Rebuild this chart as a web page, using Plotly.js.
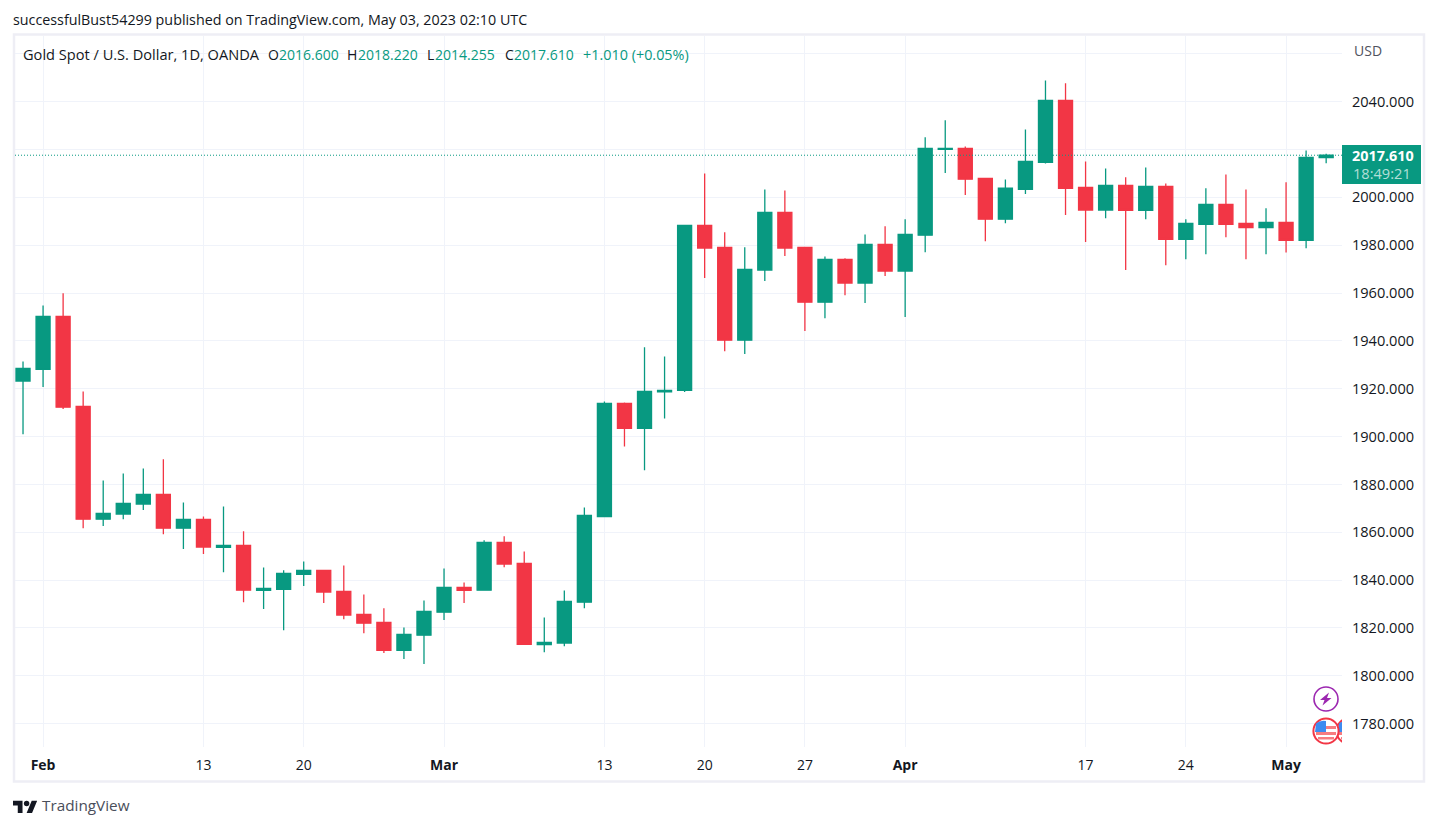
<!DOCTYPE html>
<html>
<head>
<meta charset="utf-8">
<script src="https://cdn.plot.ly/plotly-3.0.1.min.js"></script>
<style>
  html, body { margin: 0; padding: 0; background: #fff; }
</style>
</head>
<body>
<div id="chart" style="width:1437px;height:826px;"></div>
<script>
// daily bars, XAU/USD
let dates = ['2023-01-31','2023-02-01','2023-02-02','2023-02-03','2023-02-06','2023-02-07','2023-02-08','2023-02-09','2023-02-10',
  '2023-02-13','2023-02-14','2023-02-15','2023-02-16','2023-02-17','2023-02-20','2023-02-21','2023-02-22','2023-02-23','2023-02-24',
  '2023-02-27','2023-02-28','2023-03-01','2023-03-02','2023-03-03','2023-03-06','2023-03-07','2023-03-08','2023-03-09','2023-03-10',
  '2023-03-13','2023-03-14','2023-03-15','2023-03-16','2023-03-17','2023-03-20','2023-03-21','2023-03-22','2023-03-23','2023-03-24',
  '2023-03-27','2023-03-28','2023-03-29','2023-03-30','2023-03-31','2023-04-03','2023-04-04','2023-04-05','2023-04-06',
  '2023-04-10','2023-04-11','2023-04-12','2023-04-13','2023-04-14','2023-04-17','2023-04-18','2023-04-19','2023-04-20','2023-04-21',
  '2023-04-24','2023-04-25','2023-04-26','2023-04-27','2023-04-28','2023-05-01','2023-05-02','2023-05-03'];
let opens = [1923.2,1928.1,1950.2,1912.6,1865.5,1867.6,1871.8,1875.8,1861.7,
  1865.4,1853.7,1854.5,1835.7,1836.2,1842.4,1844.1,1835.3,1825.7,1822.3,
  1810.7,1817,1826.6,1837,1835.8,1855.8,1847,1813.1,1813.7,1830.8,
  1866.6,1913.9,1903.4,1918.7,1919.3,1988.3,1979.1,1940.3,1969.6,1993.7,
  1979.1,1956.2,1974.1,1964.2,1980.3,1969.2,1984.2,2020.1,2020.5,
  2007.9,1990.9,2003.3,2014.6,2040.5,2004.2,1994.7,2005,1994.6,2004.6,
  1982.4,1988.7,1997.1,1989.1,1987.4,1989.5,1982,2016.6];
let highs = [1931.4,1954.8,1959.9,1918.9,1881.7,1884.6,1886.7,1890.5,1872.5,
  1866.6,1870.8,1860.4,1845.3,1844.1,1847.8,1844.1,1846.1,1834,1828.2,
  1820.2,1831.5,1844.9,1839,1856.7,1858.3,1852,1824.4,1835.7,1870.4,
  1914.7,1914.3,1937.3,1933.5,1988.3,2010,1985.4,1979.1,2003.3,2002.9,
  1979.1,1975.3,1974.5,1984.5,1987.9,1990.8,2025.1,2032.2,2021.3,
  2007.9,2007.5,2028.4,2048.9,2047.7,2015,2012.1,2008.4,2012.5,2005.8,
  1990.8,2003.8,2009.6,2003.3,1995.4,2006.3,2019.6,2018.22];
let lows = [1901,1920.7,1911.5,1861.7,1862.6,1865.5,1869.3,1859.2,1853,
  1850.9,1843.3,1830.8,1827.9,1819.1,1837.5,1830.4,1823.7,1817.8,1809.5,
  1807,1804.9,1823.3,1830.4,1835.8,1845.4,1813.2,1809.9,1812.4,1828.3,
  1866.6,1895.9,1885.9,1907.6,1918.6,1966.3,1935.7,1934.5,1965,1975.5,
  1944.1,1949.5,1959.1,1955.8,1967.1,1950,1977.1,2010.2,2001,
  1981.7,1989.2,2001.4,2014.2,1992.6,1981.3,1991.3,1969.6,1990.8,1971.6,
  1974.1,1976.2,1983.3,1974.1,1976.2,1977,1978.7,2014.255];
let closes = [1928.5,1950.2,1912.3,1865.5,1867.9,1872.1,1875.8,1861.7,1865.4,
  1853.8,1854.5,1835.8,1836.5,1842.8,1844.1,1835,1825.4,1822,1810.7,
  1817.3,1826.9,1837,1835.7,1855.8,1846.7,1813.2,1814,1831.1,1867.1,
  1913.9,1903.4,1918.9,1919.3,1988.3,1978.8,1940.3,1969.9,1993.7,1978.8,
  1956.2,1974.1,1964.2,1980.3,1969.2,1984.5,2020.5,2020.5,2007.6,
  1990.9,2003.8,2015,2040.5,2003.8,1994.7,2005,1994.6,2004.6,1982.4,
  1989.1,1997.1,1988.7,1987.4,1989.5,1982,2016.7,2017.61];

let tickDates = ['2023-02-01','2023-02-13','2023-02-20','2023-03-01','2023-03-13','2023-03-20','2023-03-27','2023-04-03','2023-04-17','2023-04-24','2023-05-01'];
let tickLabels = ['<b>Feb</b>','13','20','<b>Mar</b>','13','20','27','<b>Apr</b>','17','24','<b>May</b>'];
let priceTicks = [1780,1800,1820,1840,1860,1880,1900,1920,1940,1960,1980,2000,2020,2040,2060];
let priceLabels = ['1780.000','1800.000','1820.000','1840.000','1860.000','1880.000','1900.000','1920.000','1940.000','1960.000','1980.000','2000.000','2020.000','2040.000',''];

let lastPrice = 2017.61;
let lastPriceText = '2017.610';
let countdownText = '18:49:21';
let publishedText = 'successfulBust54299 published on TradingView.com, May 03, 2023 02:10 UTC';
let symbolText = 'Gold Spot / U.S. Dollar, 1D, OANDA';
let ohlcHeads = ['O','H','L','C'];
let ohlcValues = ['2016.600','2018.220','2014.255','2017.610'];
let changeText = '+1.010 (+0.05%)';

let upColor = '#089981';
let downColor = '#F23645';
let gridColor = '#F0F3FA';
let textColor = '#131722';
let fontName = '"Open Sans", sans-serif';

let W = 1437, H = 826;
let plotL = 15, plotR = 1342, plotT = 36, plotB = 747;
// paper coords from page pixels
function px(x) { return (x - plotL) / (plotR - plotL); }
function py(y) { return (plotB - y) / (plotB - plotT); }

function label(text, x, y, color, size, anchor) {
    return {
        text: text, xref: 'paper', yref: 'paper', x: px(x), y: py(y),
        xanchor: anchor || 'left', yanchor: 'middle', showarrow: false,
        font: {family: fontName, size: size || 14, color: color || textColor},
        borderpad: 0, borderwidth: 0
    };
}

function svgUri(body, w, h) {
    let s = '<svg xmlns="http://www.w3.org/2000/svg" width="' + w + '" height="' + h + '" viewBox="0 0 ' + w + ' ' + h + '">' + body + '</svg>';
    return 'data:image/svg+xml;charset=utf-8,' + encodeURIComponent(s);
}
function pic(source, x, y, w, h) {
    return {source: source, xref: 'paper', yref: 'paper', x: px(x), y: py(y), sizex: w / (plotR - plotL), sizey: h / (plotB - plotT),
        xanchor: 'left', yanchor: 'top', sizing: 'stretch', layer: 'above'};
}

function flag(cx) {
    return '<circle cx="' + cx + '" cy="14" r="12.6" fill="#fff" stroke="#F23645" stroke-width="2"/>' +
        '<path d="M' + (cx - 10) + ' 9h20v3h-20zM' + (cx - 10) + ' 15h20v3h-20zM' + (cx - 8) + ' 20h16v2.5h-16z" fill="#F77C80"/>' +
        '<path d="M' + (cx - 10) + ' 6.5a12 12 0 0 1 10 -2.5v11h-11z" fill="#3D8BF0"/>';
}
let boltIcon = svgUri('<circle cx="14" cy="14" r="12" fill="#fff" stroke="#9C27B0" stroke-width="1.6"/><path d="M17 7.5l-9 7.5h4.5l-2 5.5 9-7.5h-4.5z" fill="#9C27B0"/>', 28, 28);
let flagIcon = svgUri(flag(37) + flag(14), 30, 28);
let logoIcon = svgUri('<path d="M14 22H7V11H0V4h14v18zM28 22h-8l7.5-18h8L28 22z" fill="#131722"/><circle cx="20" cy="8" r="4" fill="#131722"/>', 36, 28);

let trace = {
    type: 'candlestick', x: dates, open: opens, high: highs, low: lows, close: closes,
    increasing: {line: {color: upColor, width: 1.3}, fillcolor: upColor},
    decreasing: {line: {color: downColor, width: 1.3}, fillcolor: downColor},
    whiskerwidth: 0, hoverinfo: 'skip', showlegend: false
};

let notes = [
    label(publishedText, 13, 19.5, textColor, 14.3),
    label(symbolText, 23, 54, textColor, 14.6),
    label(changeText, 583, 54, upColor, 14.4),
    label('USD', 1354, 51, '#50535E', 14),
    label('<b>' + lastPriceText + '</b>', 1382.5, 155.5, '#ffffff', 14.4, 'center'),
    label(countdownText, 1382, 173, 'rgba(255,255,255,0.7)', 14.6, 'center'),
    label('TradingView', 42, 805, '#4A4E5A', 15.3)
];
let headX = [268, 347, 427, 505];
let valueX = [279, 358, 435, 514];
ohlcHeads.forEach(function(h, i) {
    notes.push(label(h, headX[i], 54));
    notes.push(label(ohlcValues[i], valueX[i], 54, upColor));
});

let layout = {
    width: W, height: H,
    margin: {l: plotL, r: W - plotR, t: plotT, b: H - plotB, pad: 0},
    paper_bgcolor: '#ffffff', plot_bgcolor: '#ffffff',
    showlegend: false, boxgap: 0.3, boxgroupgap: 0,
    font: {family: fontName, size: 14, color: textColor},
    xaxis: {
        type: 'category', range: [-0.4, 65.79], rangeslider: {visible: false},
        tickmode: 'array', tickvals: tickDates, ticktext: tickLabels,
        showgrid: true, gridcolor: gridColor, gridwidth: 1, zeroline: false, showline: false,
        ticks: 'outside', ticklen: 5, tickcolor: 'rgba(0,0,0,0)', tickangle: 0,
        tickfont: {family: fontName, size: 14, color: textColor}
    },
    yaxis: {
        side: 'right', range: [1770.25, 2067.45], tickmode: 'array', tickvals: priceTicks, ticktext: priceLabels,
        showgrid: true, gridcolor: gridColor, gridwidth: 1, zeroline: false, showline: false,
        ticks: 'outside', ticklen: 6, tickcolor: 'rgba(0,0,0,0)',
        tickfont: {family: fontName, size: 14.6, color: textColor}
    },
    shapes: [
        // page frame
        {type: 'rect', xref: 'paper', yref: 'paper', x0: px(14), x1: px(1424), y0: py(34.5), y1: py(781.5), line: {color: '#EEEEF5', width: 2.5}, fillcolor: 'rgba(0,0,0,0)', layer: 'below'},
        // last price line
        {type: 'line', xref: 'paper', yref: 'y', x0: 0, x1: 1, y0: lastPrice, y1: lastPrice, line: {color: upColor, width: 1, dash: '1px,2px'}, layer: 'above'},
        // last price tag
        {type: 'rect', xref: 'paper', yref: 'paper', x0: px(1342), x1: px(1421), y0: py(145), y1: py(184), line: {width: 0}, fillcolor: upColor, layer: 'above'}
    ],
    annotations: notes,
    images: [
        pic(boltIcon, 1312, 685, 28, 28),
        pic(flagIcon, 1312, 717, 30, 28),
        pic(logoIcon, 13, 798, 24.5, 19)
    ]
};

Plotly.newPlot('chart', [trace], layout, {displayModeBar: false, staticPlot: true});
</script>
</body>
</html>
